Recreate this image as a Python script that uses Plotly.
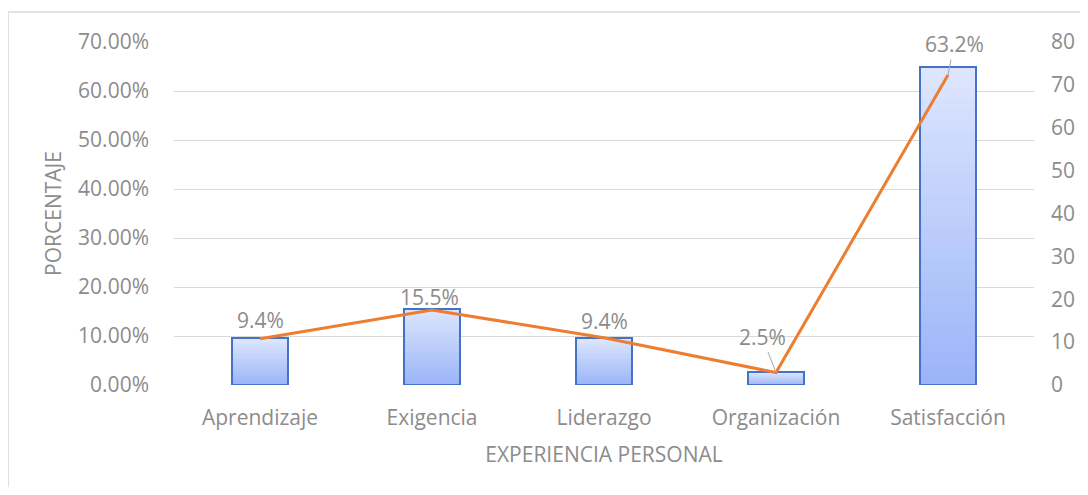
import plotly.graph_objects as go

categories = ["Aprendizaje", "Exigencia", "Liderazgo", "Organización", "Satisfacción"]
pct_values = [9.5, 15.6, 9.5, 2.6, 64.8]          # bar heights, left axis (%)
count_values = [10.8, 17.5, 11.0, 2.9, 72.3]      # line values, right axis
label_texts = ["9.4%", "15.5%", "9.4%", "2.5%", "63.2%"]
left_ticks = [0, 10, 20, 30, 40, 50, 60, 70]
right_ticks = [0, 10, 20, 30, 40, 50, 60, 70, 80]

# style
label_offsets = [(0, -19), (-3, -13), (0, -17), (-14, -36), (6, -31)]
label_leader = [False, False, False, True, True]
GRAY = "#8c8c8c"
FONT = "Open Sans"
FS = 21
N_GRAD = 30
top_rgb = (221, 230, 253)
bot_rgb = (155, 180, 249)
BAR_W = 0.32

x_idx = list(range(len(categories)))
fig = go.Figure()

# gradient fill: stacked slices of each bar (light top -> darker bottom)
for k in range(N_GRAD):
    t = (k + 0.5) / N_GRAD
    r = round(bot_rgb[0] + (top_rgb[0] - bot_rgb[0]) * t)
    g = round(bot_rgb[1] + (top_rgb[1] - bot_rgb[1]) * t)
    b = round(bot_rgb[2] + (top_rgb[2] - bot_rgb[2]) * t)
    fig.add_trace(go.Bar(
        x=x_idx,
        y=[v / N_GRAD for v in pct_values],
        base=[v * k / N_GRAD for v in pct_values],
        width=BAR_W,
        marker=dict(color=f"rgb({r},{g},{b})", line=dict(width=0)),
        hoverinfo="skip", showlegend=False,
    ))

# bar outlines
fig.add_trace(go.Bar(
    x=x_idx, y=pct_values, width=BAR_W,
    marker=dict(color="rgba(0,0,0,0)", line=dict(color="#4472c4", width=2)),
    showlegend=False, name="Porcentaje",
))

# line on secondary axis
fig.add_trace(go.Scatter(
    x=x_idx, y=count_values, yaxis="y2", mode="lines",
    line=dict(color="#ed7d31", width=3), showlegend=False, name="Frecuencia",
))

annotations = []
for i, txt in enumerate(label_texts):
    ax, ay = label_offsets[i]
    annotations.append(dict(
        x=x_idx[i], y=count_values[i], xref="x", yref="y2",
        text=txt, showarrow=True, ax=ax, ay=ay, axref="pixel", ayref="pixel",
        arrowhead=0, arrowwidth=1,
        arrowcolor="#a6a6a6" if label_leader[i] else "rgba(0,0,0,0)",
        font=dict(family=FONT, size=FS, color=GRAY),
    ))

fig.update_layout(
    width=1072, height=479,
    margin=dict(l=166, r=46, t=34, b=102, autoexpand=False),
    paper_bgcolor="white", plot_bgcolor="white",
    barmode="overlay", bargap=0,
    font=dict(family=FONT, size=FS, color=GRAY),
    annotations=annotations,
    xaxis=dict(
        range=[-0.5, len(categories) - 0.5],
        tickvals=x_idx, ticktext=categories, automargin=False,
        showgrid=False, zeroline=False, showline=False,
        ticks="", ticklen=0, ticklabelstandoff=18,
        tickfont=dict(family=FONT, size=FS, color=GRAY),
        title=dict(text="EXPERIENCIA PERSONAL", standoff=17,
                   font=dict(family=FONT, size=FS, color=GRAY)),
    ),
    yaxis=dict(
        range=[0, 70], tickvals=left_ticks, automargin=False,
        ticktext=[f"{v:.2f}%" for v in left_ticks],
        showgrid=True, gridcolor="#d9d9d9", gridwidth=1,
        zeroline=False, showline=False, ticks="", ticklabelstandoff=24,
        tickfont=dict(family=FONT, size=FS, color=GRAY),
        title=dict(text="PORCENTAJE", standoff=10,
                   font=dict(family=FONT, size=FS, color=GRAY)),
    ),
    yaxis2=dict(
        range=[0, 80], tickvals=right_ticks, overlaying="y", side="right",
        showgrid=False, zeroline=False, showline=False, ticks="",
        ticklabelstandoff=16, automargin=False,
        tickfont=dict(family=FONT, size=FS, color=GRAY),
    ),
    shapes=[
        dict(type="line", xref="paper", yref="paper",
             x0=-0.193, x1=-0.193, y0=1.0875, y1=-0.35,
             line=dict(color="#d9d9d9", width=1.5)),
        dict(type="line", xref="paper", yref="paper",
             x0=-0.193, x1=1.08, y0=1.0875, y1=1.0875,
             line=dict(color="#d9d9d9", width=1.5)),
    ],
)

fig.write_html("out.html")
